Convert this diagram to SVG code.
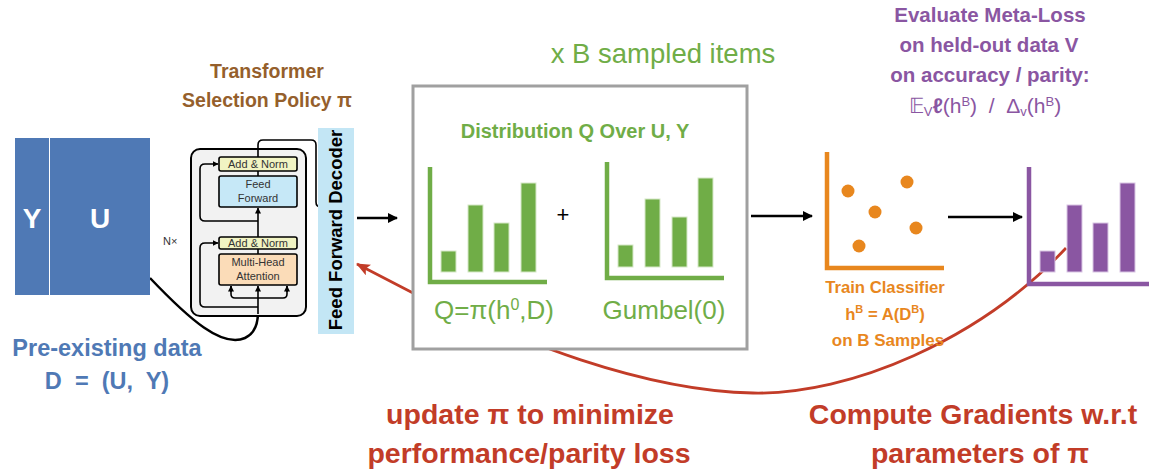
<svg xmlns="http://www.w3.org/2000/svg" width="1149" height="471" viewBox="0 0 1149 471">
<style>
text{font-family:"Liberation Sans",Arial,sans-serif}
.b{font-weight:bold}
.blk{fill:none;stroke:#000;stroke-width:2.5}
.thin{fill:none;stroke:#000;stroke-width:1.6}
.g{fill:#70ad47}
.gax{fill:none;stroke:#70ad47;stroke-width:4.5}
.gbar{fill:#70ad47;stroke:#d6e8c8;stroke-width:1}
.pbar{fill:#8a56a2;stroke:#d9c6e4;stroke-width:1}
.small{font-size:11px;fill:#333}
.red{fill:#c23c28}
</style>
<defs>
<marker id="ah" markerWidth="10" markerHeight="10" refX="9" refY="5" orient="auto" markerUnits="userSpaceOnUse"><path d="M0,0 L10,5 L0,10 Z" fill="#000"/></marker>
<marker id="sm" markerWidth="6" markerHeight="6" refX="5.5" refY="3" orient="auto" markerUnits="userSpaceOnUse"><path d="M0,0 L6,3 L0,6 Z" fill="#000"/></marker>
<marker id="rh" markerWidth="14" markerHeight="12" refX="13" refY="6" orient="auto" markerUnits="userSpaceOnUse"><path d="M0,0 L14,6 L0,12 L3,6 Z" fill="#c23c28"/></marker>
</defs>

<g id="connectors">
<path d="M1066,248 C980,340 850,395 753,393 C640,391 520,340 413,293 L357,264" fill="none" stroke="#c23c28" stroke-width="2.8" marker-end="url(#rh)"/>
<path d="M150,278 C190,320 222,348 245,338 C256,333 258,322 258,312" class="blk" stroke-width="2.2"/>
<line x1="357" y1="218" x2="397" y2="218" class="blk" marker-end="url(#ah)"/>
<line x1="751" y1="216" x2="812" y2="216" class="blk" marker-end="url(#ah)"/>
<line x1="948" y1="217" x2="1022" y2="217" class="blk" marker-end="url(#ah)"/>
</g>

<g id="data">
<rect x="15" y="138" width="34" height="157" fill="#4f79b5"/>
<rect x="50" y="138" width="100" height="157" fill="#4f79b5"/>
<text x="32" y="228" text-anchor="middle" class="b" font-size="28" fill="#fff">Y</text>
<text x="100" y="228" text-anchor="middle" class="b" font-size="28" fill="#fff">U</text>
<text x="107" y="356" text-anchor="middle" class="b" font-size="23.5" fill="#4f79b5">Pre-existing data</text>
<text x="107" y="389" text-anchor="middle" class="b" font-size="23.5" fill="#4f79b5" xml:space="preserve">D  =  (U,  Y)</text>
</g>

<g id="transformer">
<text x="267" y="78" text-anchor="middle" class="b" font-size="19.5" fill="#955f2c">Transformer</text>
<text x="267" y="107" text-anchor="middle" class="b" font-size="19.5" fill="#955f2c">Selection Policy π</text>
<rect x="191" y="149" width="115" height="167" rx="9" fill="#f2f2f2" stroke="#000" stroke-width="2"/>
<text x="163" y="245" class="small" fill="#444">N×</text>
<line x1="258" y1="314" x2="258" y2="286" class="thin" marker-end="url(#sm)"/>
<line x1="258" y1="254" x2="258" y2="249" class="thin"/>
<line x1="258" y1="237" x2="258" y2="208" class="thin" marker-end="url(#sm)"/>
<line x1="258" y1="176" x2="258" y2="171" class="thin"/>
<path d="M258,157 V145 Q258,140 263,140 H311 Q316,140 316,145 V202 Q316,207 321,207" class="thin"/>
<path d="M231,286 V294 Q231,298 235,298 H283 Q287,298 287,294 V286" class="thin"/>
<line x1="231" y1="292" x2="231" y2="286" class="thin" marker-end="url(#sm)"/>
<line x1="287" y1="292" x2="287" y2="286" class="thin" marker-end="url(#sm)"/>
<path d="M258,307 H205 Q200,307 200,302 V248 Q200,243 205,243 H218" class="thin" marker-end="url(#sm)"/>
<path d="M258,221 H205 Q200,221 200,216 V169 Q200,164 205,164 H218" class="thin" marker-end="url(#sm)"/>
<rect x="219" y="157" width="78" height="14" rx="2" fill="#f1f4c3" stroke="#000" stroke-width="1.6"/>
<text x="258" y="168" text-anchor="middle" class="small">Add &amp; Norm</text>
<rect x="219" y="176" width="78" height="31" rx="2" fill="#c6e8f7" stroke="#000" stroke-width="1.6"/>
<text x="258" y="188" text-anchor="middle" class="small" font-size="10.5">Feed</text>
<text x="258" y="202" text-anchor="middle" class="small" font-size="10.5">Forward</text>
<rect x="219" y="237" width="78" height="12" rx="2" fill="#f1f4c3" stroke="#000" stroke-width="1.6"/>
<text x="258" y="247" text-anchor="middle" class="small">Add &amp; Norm</text>
<rect x="219" y="254" width="78" height="31" rx="2" fill="#fbdcb8" stroke="#000" stroke-width="1.6"/>
<text x="258" y="266" text-anchor="middle" class="small" font-size="10.5">Multi-Head</text>
<text x="258" y="280" text-anchor="middle" class="small" font-size="10.5">Attention</text>
</g>

<g id="decoder">
<rect x="318" y="128" width="36" height="206" fill="#c3e6f5"/>
<text transform="translate(342,230) rotate(-90)" text-anchor="middle" class="b" font-size="18.5" fill="#000">Feed Forward Decoder</text>
</g>

<g id="sampler">
<text x="663" y="63" text-anchor="middle" font-size="27.5" class="g">x B sampled items</text>
<rect x="413" y="86" width="334" height="263" fill="#fff" stroke="#a0a0a0" stroke-width="3"/>
<text x="575" y="138" text-anchor="middle" class="b g" font-size="20">Distribution Q Over U, Y</text>
<path d="M430,167 V282 H547" class="gax"/>
<rect x="441" y="251" width="15" height="21" class="gbar"/>
<rect x="468" y="205" width="15" height="67" class="gbar"/>
<rect x="494" y="223" width="15" height="49" class="gbar"/>
<rect x="521" y="183" width="15" height="89" class="gbar"/>
<text x="563" y="222" text-anchor="middle" font-size="22" fill="#000">+</text>
<path d="M607,162 V278 H724" class="gax"/>
<rect x="618" y="245" width="15" height="22" class="gbar"/>
<rect x="645" y="199" width="15" height="68" class="gbar"/>
<rect x="672" y="217" width="15" height="50" class="gbar"/>
<rect x="698" y="178" width="15" height="89" class="gbar"/>
<text x="494" y="319" text-anchor="middle" font-size="26" class="g">Q=π(h<tspan font-size="16" dy="-9">0</tspan><tspan dy="9">,D)</tspan></text>
<text x="664" y="319" text-anchor="middle" font-size="26" class="g">Gumbel(0)</text>
</g>

<g id="classifier">
<path d="M827,152 V268 H944" fill="none" stroke="#e8871e" stroke-width="4.5"/>
<g fill="#e8871e">
<circle cx="848" cy="191" r="6.5"/>
<circle cx="907" cy="182" r="6.5"/>
<circle cx="875" cy="212" r="6.5"/>
<circle cx="916" cy="228" r="6.5"/>
<circle cx="859" cy="246" r="6.5"/>
</g>
<text x="885" y="293" text-anchor="middle" class="b" font-size="16.7" fill="#e8871e">Train Classifier</text>
<text x="885" y="320" text-anchor="middle" class="b" font-size="16.7" fill="#e8871e" xml:space="preserve">h<tspan font-size="11" dy="-7">B</tspan><tspan dy="7"> = A(D</tspan><tspan font-size="11" dy="-7">B</tspan><tspan dy="7">)</tspan></text>
<text x="888" y="346" text-anchor="middle" class="b" font-size="17" fill="#e8871e">on B Samples</text>
</g>

<g id="metaloss">
<path d="M1029,167 V284 H1149" fill="none" stroke="#8a56a2" stroke-width="4.5"/>
<rect x="1040" y="251" width="15" height="21" class="pbar"/>
<rect x="1067" y="205" width="15" height="67" class="pbar"/>
<rect x="1093" y="223" width="15" height="49" class="pbar"/>
<rect x="1120" y="183" width="15" height="89" class="pbar"/>
<text x="990" y="22" text-anchor="middle" class="b" font-size="20.5" fill="#8a56a2">Evaluate Meta-Loss</text>
<text x="989" y="52" text-anchor="middle" class="b" font-size="20.5" fill="#8a56a2">on held-out data V</text>
<text x="990" y="82" text-anchor="middle" class="b" font-size="20.5" fill="#8a56a2">on accuracy / parity:</text>
<text x="985" y="113" text-anchor="middle" font-size="21" fill="#8a56a2" xml:space="preserve">𝔼<tspan font-size="13" dy="3">V</tspan><tspan dy="-3" class="b">ℓ</tspan>(h<tspan font-size="13" dy="-7">B</tspan><tspan dy="7">)  /  Δ</tspan><tspan font-size="13" dy="3">v</tspan><tspan dy="-3">(h</tspan><tspan font-size="13" dy="-7">B</tspan><tspan dy="7">)</tspan></text>
</g>

<g id="labels">
<text x="530" y="424" text-anchor="middle" class="b red" font-size="28.5">update π to minimize</text>
<text x="529" y="463" text-anchor="middle" class="b red" font-size="28.5">performance/parity loss</text>
<text x="973" y="424" text-anchor="middle" class="b red" font-size="28.5">Compute Gradients w.r.t</text>
<text x="980" y="463" text-anchor="middle" class="b red" font-size="28.5">parameters of π</text>
</g>
</svg>
